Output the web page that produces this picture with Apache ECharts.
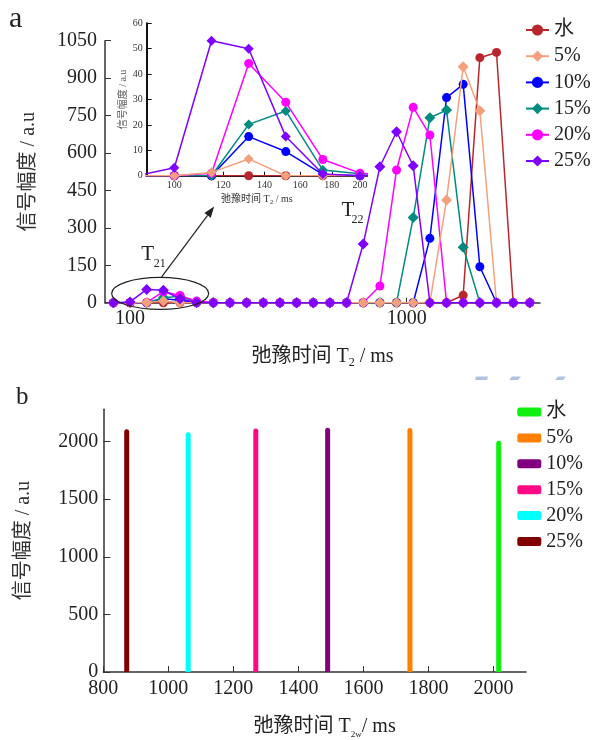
<!DOCTYPE html>
<html><head><meta charset="utf-8">
<script src="https://cdn.jsdelivr.net/npm/echarts@6/dist/echarts.min.js"></script>
<style>html,body{margin:0;padding:0;background:#fff}#c{width:592px;height:740px}</style>
</head><body><div id="c"></div>
<script>
// ---------- DATA ----------
const seriesNames = ['水', '5%', '10%', '15%', '20%', '25%'];
// T2 sample points (ms) of the top chart
const t2 = [87.1, 100, 114.9, 132.0, 151.6, 174.1, 200, 229.7, 263.9, 303.1, 348.2, 400, 459.5, 527.8,
            606.3, 696.4, 800, 919.0, 1055.6, 1212.6, 1392.9, 1600, 1837.9, 2111.2, 2425.2, 2785.8];
// signal amplitude (a.u) per series, one value per T2 point
const ampWater = [0,0,0,0,0,0,0,0,0,0,0,0,0,0,0,0,0,0,0,0,0,30,982,1003,0,0];
const amp5     = [0,0,1.3,6.6,0,0,0,0,0,0,0,0,0,0,0,0,0,0,0,0,412,946,769,0,0,0];
const amp10    = [0,0,0,15.4,9.5,0.5,0,0,0,0,0,0,0,0,0,0,0,0,0,258,822,875,144,0,0,0];
const amp15    = [0,0,0,20.2,25.5,2.2,0.8,0,0,0,0,0,0,0,0,0,0,0,341,741,772,222,0,0,0,0];
const amp20    = [0,0,1,44.2,28.9,6.4,1,0,0,0,0,0,0,0,0,0,67,532,783,672,0,0,0,0,0,0];
const amp25    = [0,3.1,53.1,50,15.4,0.7,0,0,0,0,0,0,0,0,0,235,545,685,549,0,0,0,0,0,0,0];
const topTicks = [100, 1000];
const insetTicks = [100, 120, 140, 160, 180, 200];
// bottom chart: T2w peak position (ms) and amplitude (a.u)
const peakT2w = [2016, 1743, 1490, 1269, 1061, 872];
const peakAmp = [2006, 2118, 2120, 2114, 2080, 2106];
const bottomYTicks = [0, 500, 1000, 1500, 2000];

// ---------- STYLES ----------
const SERIF = "'Liberation Serif','Times New Roman','Noto Sans CJK SC',serif";
const topColors = ['#b8272c', '#f4a07c', '#0000ff', '#008b80', '#ff00ff', '#8000ff'];
const topSymbols = ['circle', 'diamond', 'circle', 'diamond', 'circle', 'diamond'];
const topZ = [2, 3, 2, 2, 2, 4];
const barColors = ['#10f010', '#ff8000', '#800080', '#ff0a84', '#00ffff', '#800000'];
const topValues = [ampWater, amp5, amp10, amp15, amp20, amp25];
const plain = v => String(v);

const series = [];
topValues.forEach((vals, i) => {
  const data = t2.map((x, k) => [x, vals[k]]);
  const base = {
    type: 'line', name: seriesNames[i], data,
    symbol: topSymbols[i], symbolSize: topSymbols[i] === 'circle' ? 9 : 11,
    showAllSymbol: true,
    lineStyle: { width: 1.5, color: topColors[i] },
    itemStyle: { color: topColors[i] },
    z: topZ[i], animation: false, clip: true
  };
  series.push(Object.assign({}, base, { xAxisIndex: 0, yAxisIndex: 0 }));
  series.push(Object.assign({}, base, { xAxisIndex: 1, yAxisIndex: 1, symbolSize: topSymbols[i] === 'circle' ? 9 : 10 }));
});
const bNames = seriesNames.map(n => 'b:' + n);
peakT2w.forEach((x, i) => {
  series.push({
    type: 'bar', name: bNames[i], xAxisIndex: 2, yAxisIndex: 2,
    data: [[x, peakAmp[i]]], barWidth: 5, barGap: '-100%',
    itemStyle: { color: barColors[i], borderRadius: [2.5, 2.5, 0, 0] },
    animation: false
  });
});

const axisLineStyle = { color: '#333', width: 1.5 };
const nameRich = {
  s: { fontSize: 12, fontFamily: SERIF, color: '#222', verticalAlign: 'bottom' }
};

const option = {
  backgroundColor: '#fff',
  animation: false,
  grid: [
    { left: 105, top: 40.7, width: 435, height: 262 },
    { left: 146.7, top: 23.3, width: 220.3, height: 152.4 },
    { left: 103.3, top: 409.3, width: 422.7, height: 265.7 }
  ],
  xAxis: [
    {
      gridIndex: 0, type: 'log', logBase: 10, min: 81.2, max: 3032,
      axisLine: { lineStyle: axisLineStyle },
      axisTick: { inside: true, length: 5, customValues: topTicks, lineStyle: { color: '#333' } },
      axisLabel: { customValues: topTicks, formatter: plain, fontSize: 20, fontFamily: SERIF, color: '#222', margin: 6 },
      splitLine: { show: false }, minorTick: { show: false },
      name: '弛豫时间 T{s|2} / ms', nameLocation: 'middle', nameGap: 42,
      nameTextStyle: { fontSize: 20, fontFamily: SERIF, color: '#222', lineHeight: 24, rich: nameRich }
    },
    {
      gridIndex: 1, type: 'log', logBase: 10, min: 90.2, max: 205.3,
      axisLine: { lineStyle: { color: '#111', width: 2 } },
      axisTick: { inside: true, length: 4, customValues: insetTicks, lineStyle: { color: '#111' } },
      axisLabel: { customValues: insetTicks, formatter: plain, fontSize: 10, fontFamily: SERIF, color: '#333', margin: 5 },
      splitLine: { show: false },
      name: '弛豫时间 T{s|2} / ms', nameLocation: 'middle', nameGap: 17,
      nameTextStyle: { fontSize: 10, fontFamily: SERIF, color: '#333', lineHeight: 13,
        rich: { s: { fontSize: 7, fontFamily: SERIF, color: '#333', verticalAlign: 'bottom' } } }
    },
    {
      gridIndex: 2, type: 'value', min: 800, max: 2100, interval: 200,
      axisLine: { lineStyle: axisLineStyle },
      axisTick: { inside: true, length: 6, lineStyle: { color: '#333' } },
      axisLabel: { showMaxLabel: false, formatter: plain, fontSize: 20, fontFamily: SERIF, color: '#222', margin: 7 },
      splitLine: { show: false },
      name: '弛豫时间 T{s|2w}/ ms', nameLocation: 'middle', nameGap: 43,
      nameTextStyle: { fontSize: 20, fontFamily: SERIF, color: '#222', lineHeight: 24, padding: [0, 0, 0, 20],
        rich: { s: { fontSize: 9, fontFamily: SERIF, color: '#222', verticalAlign: 'bottom' } } }
    }
  ],
  yAxis: [
    {
      gridIndex: 0, type: 'value', min: 0, max: 1050, interval: 150,
      axisLine: { show: true, lineStyle: axisLineStyle },
      axisTick: { show: true, inside: true, length: 6, lineStyle: { color: '#333' } },
      axisLabel: { formatter: plain, fontSize: 20, fontFamily: SERIF, color: '#222', margin: 8 },
      splitLine: { show: false },
      name: '信号幅度 / a.u', nameLocation: 'middle', nameGap: 66,
      nameTextStyle: { fontSize: 20, fontFamily: SERIF, color: '#333' }
    },
    {
      gridIndex: 1, type: 'value', min: 0, max: 60, interval: 10,
      axisLine: { show: true, lineStyle: { color: '#111', width: 2 } },
      axisTick: { show: true, inside: true, length: 5, lineStyle: { color: '#111' } },
      axisLabel: { formatter: plain, fontSize: 10, fontFamily: SERIF, color: '#333', margin: 4 },
      splitLine: { show: false },
      name: '信号幅度 / a.u', nameLocation: 'middle', nameGap: 18,
      nameTextStyle: { fontSize: 10, fontFamily: SERIF, color: '#555' }
    },
    {
      gridIndex: 2, type: 'value', min: 0, max: 2280, interval: 500,
      axisLine: { show: true, lineStyle: axisLineStyle },
      axisTick: { show: true, inside: true, length: 7, customValues: bottomYTicks, lineStyle: { color: '#333' } },
      axisLabel: { customValues: bottomYTicks, formatter: plain, fontSize: 20, fontFamily: SERIF, color: '#222', margin: 5 },
      splitLine: { show: false },
      name: '信号幅度 / a.u', nameLocation: 'middle', nameGap: 70,
      nameTextStyle: { fontSize: 20, fontFamily: SERIF, color: '#333' }
    }
  ],
  legend: [
    {
      data: seriesNames, orient: 'vertical', left: 520, top: 15,
      itemWidth: 23, itemHeight: 14, itemGap: 6.2,
      textStyle: { fontSize: 20, fontFamily: SERIF, color: '#222', lineHeight: 20 },
      selectedMode: false
    },
    {
      data: bNames, orient: 'vertical', left: 512.3, top: 397,
      itemWidth: 24, itemHeight: 9, itemGap: 5.9, icon: 'roundRect',
      formatter: n => n.replace('b:', ''),
      textStyle: { fontSize: 20, fontFamily: SERIF, color: '#222', lineHeight: 20 },
      selectedMode: false
    }
  ],
  series
};

const chart = echarts.init(document.getElementById('c'));
chart.setOption(option);

// ---------- annotations (anchored to data space) ----------
const ec = chart.convertToPixel({ gridIndex: 0 }, [128.5, 37]);
const t22 = chart.convertToPixel({ gridIndex: 0 }, [611, 371]);
const cx = ec[0], cy = ec[1];
const ax1 = cx + 1.5, ay1 = cy - 16.5, ax2 = cx + 54, ay2 = cy - 87;
const ang = Math.atan2(ay2 - ay1, ax2 - ax1);
const hl = 11, hw = 4;
const bx = ax2 - hl * Math.cos(ang), by = ay2 - hl * Math.sin(ang);
const head = [[ax2, ay2],
  [bx + hw * Math.sin(ang), by - hw * Math.cos(ang)],
  [bx - hw * Math.sin(ang), by + hw * Math.cos(ang)]];
const txt = (x, y, s, size) => ({
  type: 'text', x, y, z: 20,
  style: { text: s, fontSize: size, fontFamily: SERIF, fill: '#222', align: 'left', verticalAlign: 'middle' }
});
chart.setOption({
  graphic: [
    txt(9, 19, 'a', 30),
    txt(16, 397, 'b', 25),
    { type: 'ellipse', z: 20, shape: { cx, cy, rx: 48.5, ry: 16 }, style: { fill: 'none', stroke: '#222', lineWidth: 1.2 } },
    { type: 'line', z: 20, shape: { x1: ax1, y1: ay1, x2: bx, y2: by }, style: { stroke: '#222', lineWidth: 1.2 } },
    { type: 'polygon', z: 20, shape: { points: head }, style: { fill: '#222' } },
    txt(cx - 19, cy - 38.5, 'T', 21),
    txt(cx - 6.5, cy - 30, '21', 12),
    txt(t22[0] - 6, t22[1], 'T', 21),
    txt(t22[0] + 4, t22[1] + 9.5, '22', 12),
    { type: 'polygon', z: 1, shape: { points: [[476, 376.5], [488, 376.5], [487, 380], [475, 380]] }, style: { fill: '#aec3de' } },
    { type: 'polygon', z: 1, shape: { points: [[512, 376.5], [521, 376.5], [518, 380], [509, 380]] }, style: { fill: '#aec3de' } },
    { type: 'polygon', z: 1, shape: { points: [[558, 376.5], [566, 376.5], [563, 380], [555, 380]] }, style: { fill: '#aec3de' } }
  ]
});
</script>
</body></html>
